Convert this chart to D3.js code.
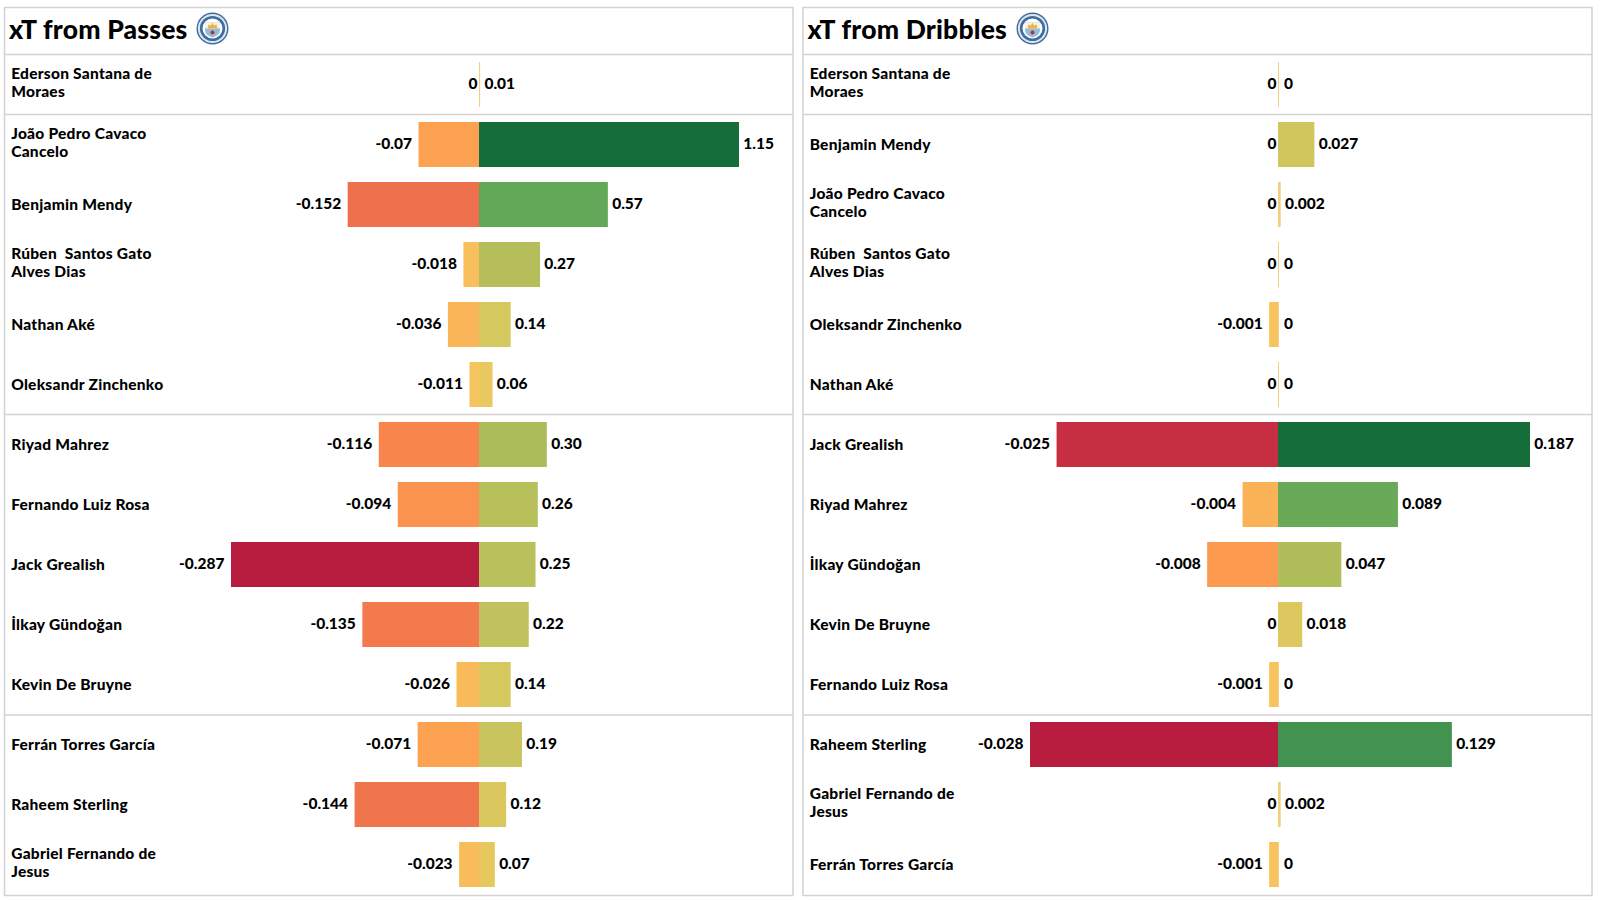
<!DOCTYPE html>
<html><head><meta charset="utf-8">
<script src="https://cdn.jsdelivr.net/npm/d3@7"></script>
<style>html,body{margin:0;background:#fff}svg{display:block}text{font-family:Lato,sans-serif;font-weight:900;fill:#000}</style>
</head><body><svg id="c" width="1600" height="900"></svg>
<script>
const passNames=["Ederson Santana de|Moraes","João Pedro Cavaco|Cancelo","Benjamin Mendy","Rúben  Santos Gato|Alves Dias","Nathan Aké","Oleksandr Zinchenko","Riyad Mahrez","Fernando Luiz Rosa","Jack Grealish","İlkay Gündoğan","Kevin De Bruyne","Ferrán Torres García","Raheem Sterling","Gabriel Fernando de|Jesus"];
const passNeg=[0,-0.07,-0.152,-0.018,-0.036,-0.011,-0.116,-0.094,-0.287,-0.135,-0.026,-0.071,-0.144,-0.023];
const passPos=[0.005,1.15,0.57,0.27,0.14,0.06,0.30,0.26,0.25,0.22,0.14,0.19,0.12,0.07];
const passPosLabels=["0.01","1.15","0.57","0.27","0.14","0.06","0.30","0.26","0.25","0.22","0.14","0.19","0.12","0.07"];
const dribNames=["Ederson Santana de|Moraes","Benjamin Mendy","João Pedro Cavaco|Cancelo","Rúben  Santos Gato|Alves Dias","Oleksandr Zinchenko","Nathan Aké","Jack Grealish","Riyad Mahrez","İlkay Gündoğan","Kevin De Bruyne","Fernando Luiz Rosa","Raheem Sterling","Gabriel Fernando de|Jesus","Ferrán Torres García"];
const dribNeg=[0,0,0,0,-0.001,0,-0.025,-0.004,-0.008,0,-0.001,-0.028,0,-0.001];
const dribPos=[0,0.027,0.002,0,0,0,0.187,0.089,0.047,0.018,0,0.129,0.002,0];
const dribPosLabels=["0","0.027","0.002","0","0","0","0.187","0.089","0.047","0.018","0","0.129","0.002","0"];

const posStops=[0,0.12,0.24,0.5,0.69,1], posCols=["#f6c960","#d6c85f","#b3be5b","#62a758","#429250","#156e39"];
const negStops=[0,0.24,0.4,0.53,1], negCols=["#f6c960","#fda351","#f8864b","#ef704c","#b81c3e"];
const posT=d3.scaleLinear().domain(posStops).range(posCols).interpolate(d3.interpolateRgb);
const negT=d3.scaleLinear().domain(negStops).range(negCols).interpolate(d3.interpolateRgb);

const svg=d3.select("#c");
const pitch=60, barH=45, firstTop=62;
const grey="#d2d2d2";

function badge(g,cx,cy){
  g.append("circle").attr("cx",cx).attr("cy",cy).attr("r",16).attr("fill","#3f6d9e");
  g.append("circle").attr("cx",cx).attr("cy",cy).attr("r",14.6).attr("fill","#dfe8ef");
  g.append("circle").attr("cx",cx).attr("cy",cy).attr("r",12.6).attr("fill","#3f6d9e");
  g.append("circle").attr("cx",cx).attr("cy",cy).attr("r",10).attr("fill","#fff");
  g.append("path").attr("d",`M${cx-7.5},${cy-6}H${cx+7.5}V${cy+2}Q${cx+7},${cy+7} ${cx},${cy+9}Q${cx-7},${cy+7} ${cx-7.5},${cy+2}Z`).attr("fill","#8fbfe0");
  g.append("path").attr("d",`M${cx-7.5},${cy-6}H${cx+7.5}V${cy}H${cx-7.5}Z`).attr("fill","#f7f3e4");
  g.append("path").attr("d",`M${cx-5},${cy}L${cx-4},${cy-4}L${cx-1.5},${cy-3}L${cx},${cy-6}L${cx+1.5},${cy-3}L${cx+4},${cy-4}L${cx+5},${cy}Z`).attr("fill","#efb24a");
  g.append("circle").attr("cx",cx).attr("cy",cy+4).attr("r",2).attr("fill","#b5322e");
}

function panel(o){
  const g=svg.append("g");
  const {x0,x1}=o;
  g.append("rect").attr("x",x0).attr("y",7.5).attr("width",x1-x0).attr("height",888).attr("fill","#fff").attr("stroke",grey).attr("stroke-width",1.5);
  [54.5,114.5,414.5,715].forEach(y=>g.append("line").attr("x1",x0).attr("x2",x1).attr("y1",y).attr("y2",y).attr("stroke",grey).attr("stroke-width",1.5));
  g.append("text").attr("x",x0+4.5).attr("y",38.5).attr("font-size",26.5).attr("letter-spacing",0.2).text(o.title);
  badge(g,o.badgeX,28.5);
  const rows=o.names.map((n,i)=>({n,i,neg:o.neg[i],pos:o.pos[i],lab:o.labels[i]}));
  const y=d3.scaleBand().domain(d3.range(rows.length)).range([firstTop,firstTop+pitch*rows.length]).paddingInner(0);
  const xNeg=d3.scaleLinear().domain([0,o.negMax]).range([o.zero,o.zero-248]);
  const xPos=d3.scaleLinear().domain([0,o.posMax]).range([o.zero,o.zero+o.posRange]);
  const r=g.selectAll("g.row").data(rows).join("g").attr("class","row");
  r.append("rect").attr("x",d=>xNeg(Math.abs(d.neg))).attr("y",d=>y(d.i)).attr("height",barH)
    .attr("width",d=>o.zero-xNeg(Math.abs(d.neg))).attr("fill",d=>negT(Math.abs(d.neg)/o.negMax));
  r.append("rect").attr("x",o.zero).attr("y",d=>y(d.i)).attr("height",barH)
    .attr("width",d=>Math.max(1,xPos(d.pos)-o.zero)).attr("fill",d=>d.pos===0||d.pos<0.006?"#f0cf80":posT(d.pos/o.posMax));
  const cy=d=>y(d.i)+barH/2+4;
  r.append("text").attr("x",d=>d.neg===0?o.zero-1.5:xNeg(Math.abs(d.neg))-6.5).attr("y",cy).attr("text-anchor","end").attr("font-size",15.5).text(d=>d.neg);
  r.append("text").attr("x",d=>d.pos===0?o.zero+6:xPos(d.pos)+4.3).attr("y",cy).attr("font-size",15.5).text(d=>d.lab);
  r.each(function(d){
    const parts=d.n.split("|"), sel=d3.select(this), base=y(d.i)+barH/2+(parts.length>1?-5.5:5);
    parts.forEach((t,k)=>sel.append("text").attr("xml:space","preserve").style("white-space","pre").attr("x",x0+6.7).attr("y",base+k*18).attr("font-size",15.5).attr("letter-spacing",0.25).text(t));
  });
}
panel({x0:4.5,x1:793,title:"xT from Passes",badgeX:212.5,names:passNames,neg:passNeg,pos:passPos,labels:passPosLabels,zero:479,negMax:0.287,posMax:1.15,posRange:260});
panel({x0:803,x1:1592,title:"xT from Dribbles",badgeX:1032.5,names:dribNames,neg:dribNeg,pos:dribPos,labels:dribPosLabels,zero:1278,negMax:0.028,posMax:0.187,posRange:252});
</script></body></html>
